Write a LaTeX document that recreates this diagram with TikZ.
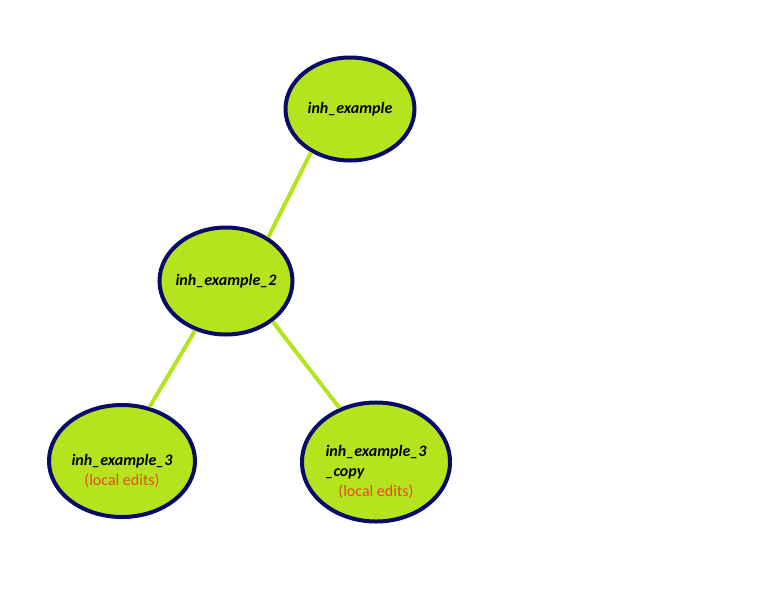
\documentclass[tikz,border=0pt]{standalone}
\usepackage{fontspec}
\setmainfont{Carlito}
\usetikzlibrary{shapes.geometric}
\definecolor{leaf}{RGB}{181,228,30}
\definecolor{rim}{RGB}{10,10,105}
\definecolor{edits}{RGB}{232,74,28}
\newcommand{\editnote}[1]{{\upshape\mdseries\color{edits}#1}}
\newcommand{\lowerline}{\rule{0pt}{31pt}}
\tikzset{
repo/.style={ellipse, draw=rim, fill=leaf, line width=4pt, inner sep=0pt,
  font=\fontsize{16}{20}\selectfont\bfseries\itshape, align=center},
link/.style={draw=leaf, line width=4pt}
}
\begin{document}
\begin{tikzpicture}[x=1pt,y=-1pt]
\useasboundingbox (0,0) rectangle (768,614);
\fill[white] (0,0) rectangle (768,614);
\node[repo, minimum width=129pt, minimum height=103pt] (base) at (350,109) {inh\_example};
\node[repo, minimum width=133pt, minimum height=107pt, inner xsep=-12pt] (child) at (226,281) {inh\_example\_2};
\node[repo, minimum width=146pt, minimum height=112pt, inner xsep=-8pt] (local) at (122,461)
  {\lowerline inh\_example\_3\\\editnote{(local edits)}};
\node[repo, minimum width=148pt, minimum height=119pt, inner xsep=-8pt] (copy) at (376,462)
  {\lowerline inh\_example\_3\\\makebox[0pt][l]{\_copy}\phantom{inh\_example\_3}\\\editnote{(local edits)}};
\draw[link] (base.228) -- (child.46);
\draw[link] (child.238) -- (local.63);
\draw[link] (child.319) -- (copy.124);
\end{tikzpicture}
\end{document}
